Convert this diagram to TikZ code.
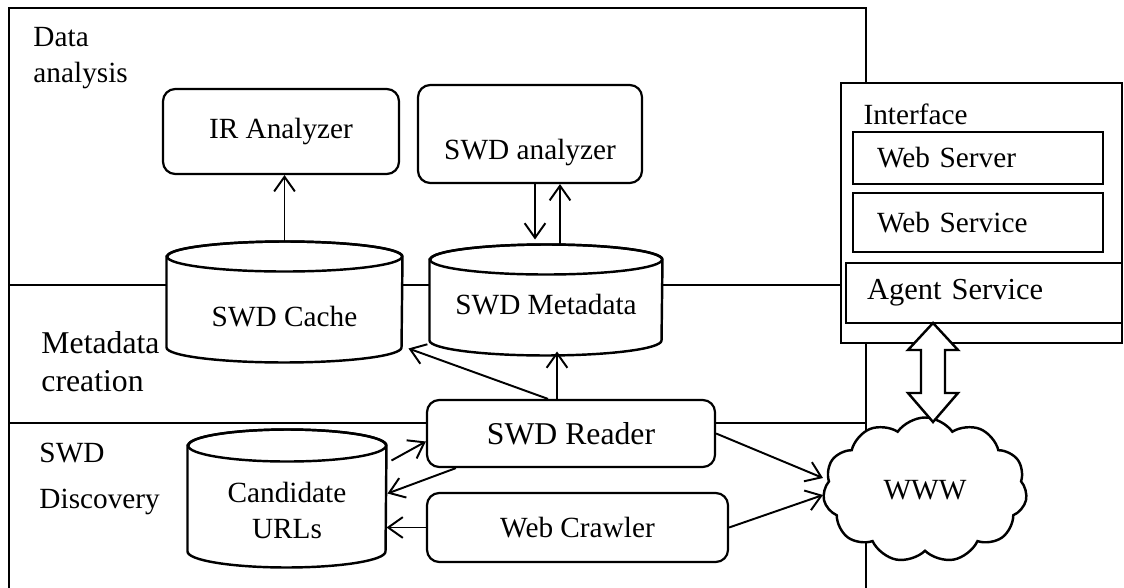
\documentclass[12pt,tikz,border=0pt]{standalone}
\usepackage{fontspec}
\setmainfont{Liberation Serif}
\usetikzlibrary{shapes.symbols,arrows.meta,calc,positioning}

\newlength\pxu
\setlength\pxu{0.0144cm}

% data store drawn over an empty named node: name, half width, cap, text shift, text
\newcommand{\drum}[5]{%
  \draw[line width=1pt, fill=white]
    ($(#1.north west)+(0,#3)$) -- ($(#1.south west)+(0,-#3)$)
    arc[start angle=180, end angle=360, x radius={#2*\pxu}, y radius={#3*\pxu}]
    -- ($(#1.north east)+(0,#3)$)
    arc[start angle=0, end angle=180, x radius={#2*\pxu}, y radius={#3*\pxu}] -- cycle;
  \draw[line width=1pt] ($(#1.north)+(0,#3)$) ellipse[x radius={#2*\pxu}, y radius={#3*\pxu}];
  \node[align=center] at ($(#1)+(0,#4)$) {#5};}

\begin{document}
\begin{tikzpicture}[x=0.0144cm, y=-0.0144cm,
	>={Straight Barb[length=6pt,width=8.5pt]},
	frame/.style={line width=1.2pt},
	block/.style={draw, rounded corners=5pt, line width=0.9pt, fill=white, align=center},
	ifbox/.style={draw, line width=0.9pt, fill=white, align=left},
	store/.style={inner sep=0pt},
	flow/.style={arrows=->, line width=0.8pt}]
	\useasboundingbox (0,0) rectangle (1124,588);

	% layer frames
	\draw [frame] (9,588) -- (9,8) -- (866,8) -- (866,83);
	\draw [frame] (9,285) -- (841,285);
	\draw [frame] (9,423) -- (866,423);
	\draw [frame] (866,343) -- (866,588);
	\draw [frame, fill=white] (841,83) rectangle (1122,343);

	\node [anchor=north west, inner sep=0pt, align=left] (dalabel) at (33,27) {Data\\analysis};
	\node [anchor=north west, inner sep=0pt, align=left, font=\fontsize{13}{15.5}\selectfont] (mclabel) at (41,331) {Metadata\\creation};
	\node [anchor=north west, inner sep=0pt, align=left] (sdlabel) at (39,443) {SWD\\[4pt]Discovery};
	\node [anchor=north west, inner sep=0pt] (iflabel) at (863,103) {Interface};

	% components
	\node [block, minimum width={236*\pxu}, minimum height={85*\pxu}] (ir) at (281,131.5) {IR Analyzer};
	\node [block, minimum width={224*\pxu}, minimum height={98*\pxu}, label={[yshift={-19*\pxu}]center:SWD analyzer}] (swda) at (530,134) {};
	\node [block, minimum width={288*\pxu}, minimum height={67*\pxu}, font=\fontsize{13}{15.5}\selectfont] (reader) at (571,433.5) {SWD Reader};
	\node [block, minimum width={301*\pxu}, minimum height={69*\pxu}] (crawler) at (577.5,527.5) {Web Crawler};

	\node [ifbox, inner xsep={24*\pxu}, text width={202*\pxu}, minimum height={52*\pxu}] (server) at (978,158) {Web Server};
	\node [ifbox, inner xsep={24*\pxu}, text width={202*\pxu}, minimum height={59*\pxu}] (service) at (978,222.5) {Web Service};
	\node [ifbox, inner xsep={21*\pxu}, text width={234*\pxu}, minimum height={60*\pxu}, font=\fontsize{12.5}{15}\selectfont] (agent) at (984,293) {Agent Service};

	\node [cloud, draw, line width=1pt, fill=white, cloud puffs=11, cloud puff arc=110, cloud ignores aspect, minimum width={204*\pxu}, minimum height={145*\pxu}] (www) at (925,490) {WWW};
	\draw [line width=1pt, fill=white] (933,323) -- (958,350) -- (945,350) -- (945,393) -- (958,393) -- (933,422) -- (908,393) -- (921,393) -- (921,350) -- (908,350) -- cycle;

	% data stores
	\node [store, minimum width={235*\pxu}, minimum height={120*\pxu}] (cache) at (284.5,302) {};
	\drum{cache}{117.5}{15}{15}{SWD Cache}
	\node [store, minimum width={232*\pxu}, minimum height={110*\pxu}] (meta) at (546,300) {};
	\drum{meta}{116}{15}{5}{SWD Metadata}
	\node [store, minimum width={198*\pxu}, minimum height={137*\pxu}] (cand) at (287,498.5) {};
	\drum{cand}{99}{16}{12}{Candidate\\URLs}

	% flows
	\draw [flow] (cache.north) -- (cache.north |- ir.south);
	\coordinate (m1) at ($(meta.north)+(-11,0)$);
	\coordinate (m2) at ($(meta.north)+(14,0)$);
	\coordinate (m3) at ($(meta.south)+(11,0)$);
	\draw [flow] (m1 |- swda.south) -- ($(m1)+(0,-5)$);
	\draw [flow] (m2) -- (m2 |- swda.south);
	\draw [flow] (m3 |- reader.north) -- ($(m3)+(0,-4)$);
	\draw [flow] ($(reader.north)+(-23,0)$) -- ($(cache.south east)+(6,-14)$);
	\draw [flow] ($(cand.east)+(5,-38)$) -- ($(reader.west)+(0,8)$);
	\draw [flow] ($(reader.south west)+(30,0)$) -- ($(cand.east)+(1,-5)$);
	\draw [flow] (crawler.west) -- (crawler.west -| cand.east);
	\draw [flow] (reader.east) -- ($(www.west)+(0,-12)$);
	\draw [flow] (crawler.east) -- ($(www.west)+(0,5)$);
\end{tikzpicture}
\end{document}
